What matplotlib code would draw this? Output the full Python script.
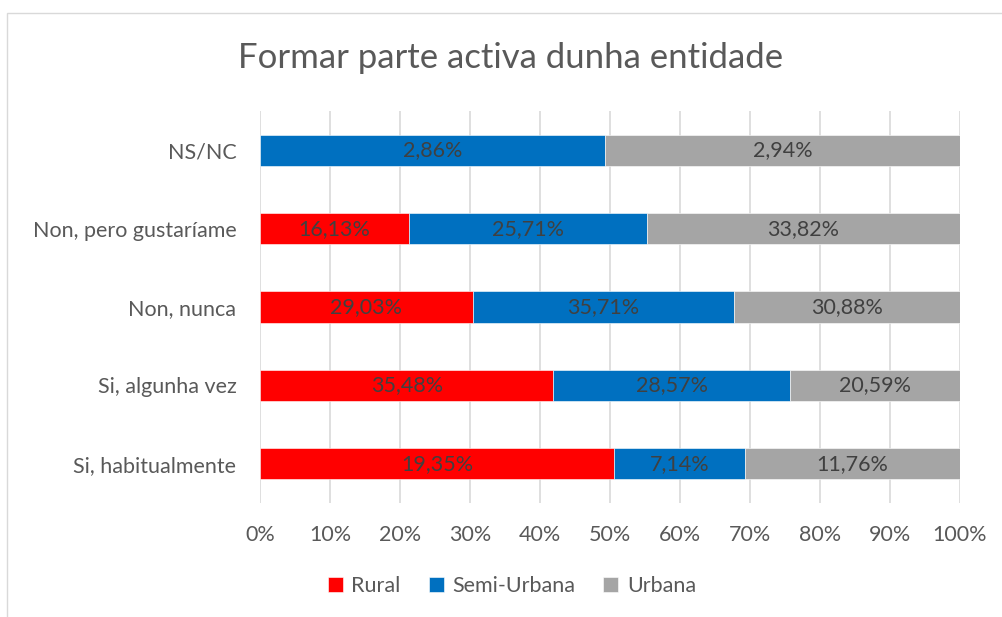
import numpy as np
import matplotlib.pyplot as plt
from matplotlib.patches import Rectangle

# categories bottom -> top
categories = ['Si, habitualmente', 'Si, algunha vez', 'Non, nunca',
              'Non, pero gustaríame', 'NS/NC']
rural = [19.35, 35.48, 29.03, 16.13, 0.0]
semi = [7.14, 28.57, 35.71, 25.71, 2.86]
urbana = [11.76, 20.59, 30.88, 33.82, 2.94]
series = ['Rural', 'Semi-Urbana', 'Urbana']
colors = ['#FF0000', '#0070C0', '#A5A5A5']

plt.rcParams['font.family'] = ['Lato', 'DejaVu Sans']
txt = '#595959'
fs = 15.5

fig = plt.figure(figsize=(10.03, 6.17), dpi=100)
ax = fig.add_axes([260/1003, 1 - 503/617, 700/1003, 392/617])

vals = np.array([rural, semi, urbana])
totals = vals.sum(axis=0)
shares = vals / totals
y = np.arange(len(categories))
left = np.zeros(len(categories))
for i, name in enumerate(series):
    ax.barh(y, shares[i], left=left, height=0.4, color=colors[i], label=name,
            edgecolor='white', linewidth=0.4, zorder=3)
    for j in range(len(categories)):
        if vals[i, j] > 0:
            ax.text(left[j] + shares[i, j] / 2, y[j],
                    ('%.2f%%' % vals[i, j]).replace('.', ','),
                    ha='center', va='center', fontsize=fs, color='#404040', zorder=4)
    left += shares[i]

ax.set_xlim(0, 1)
ax.set_ylim(-0.5, 4.5)
ax.set_xticks(np.arange(0, 1.01, 0.1))
ax.set_xticklabels(['%d%%' % v for v in range(0, 101, 10)])
ax.set_yticks(y)
ax.set_yticklabels(categories)
ax.tick_params(axis='both', length=0, labelsize=fs, colors=txt)
ax.tick_params(axis='x', pad=16)
ax.tick_params(axis='y', pad=17)
ax.grid(axis='x', color='#D9D9D9', linewidth=1.2, zorder=0)
for s in ax.spines.values():
    s.set_visible(False)

fig.text(0.509, 1 - 58/617, 'Formar parte activa dunha entidade',
         ha='center', va='center', fontsize=25, color=txt)

ax.legend(loc='center', bbox_to_anchor=(0.36, -0.212), ncol=3, frameon=False,
          fontsize=fs, labelcolor=txt, handlelength=0.7, handleheight=0.7,
          handletextpad=0.4, columnspacing=1.3)

# chart area border
fig.patches.append(Rectangle((7/1003, -0.02), 1.05, 1 - 13/617 + 0.02,
                             transform=fig.transFigure, fill=False,
                             edgecolor='#D9D9D9', linewidth=1))

fig.savefig('out.png', dpi=100)
